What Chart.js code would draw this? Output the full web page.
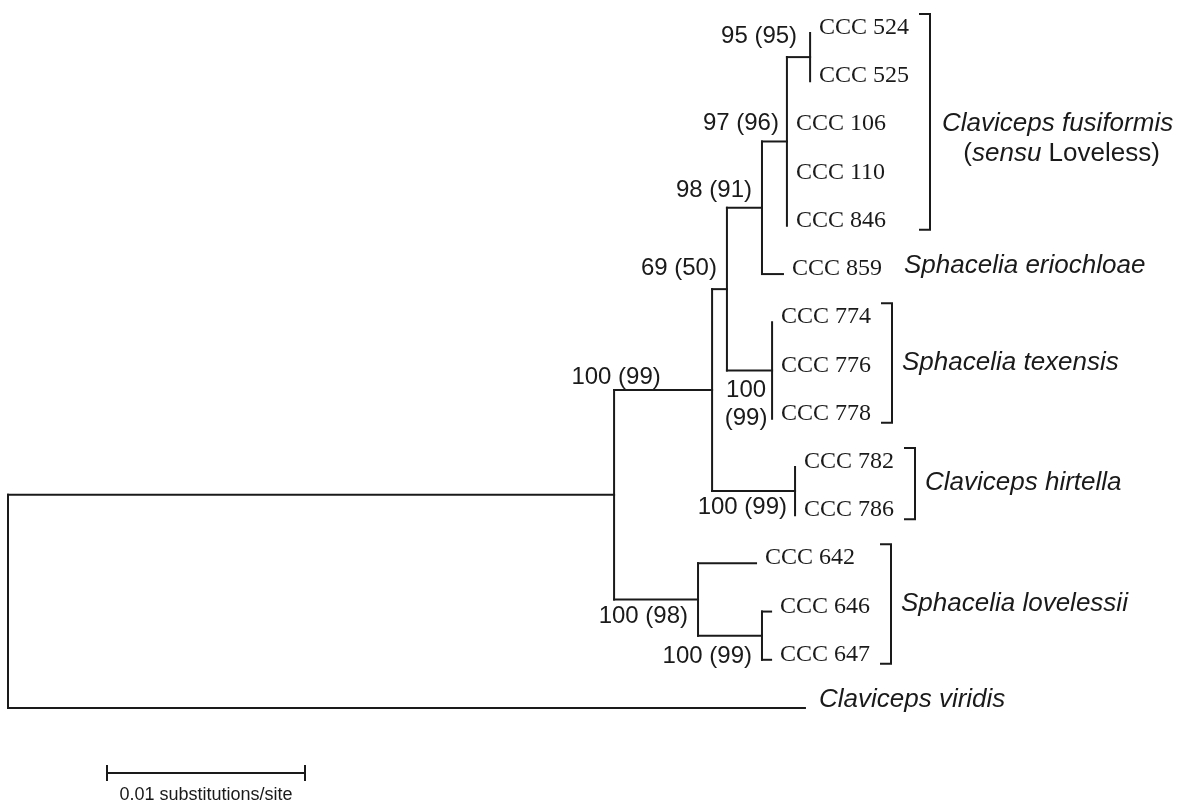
<!DOCTYPE html>
<html>
<head>
<meta charset="utf-8">
<title>Claviceps / Sphacelia phylogeny</title>
<script src="https://cdn.jsdelivr.net/npm/chart.js@4.4.1/dist/chart.umd.min.js"></script>
<style>
  html, body { margin: 0; padding: 0; background: #fff; }
  #wrap { width: 1178px; height: 802px; position: relative; }
</style>
</head>
<body>
<div id="wrap"><canvas id="tree"></canvas></div>
<script>
// ── Tree data ────────────────────────────────────────────────
// Tips, top to bottom. Depth = distance from root (substitutions/site).
const tipNames  = ['CCC 524', 'CCC 525', 'CCC 106', 'CCC 110', 'CCC 846', 'CCC 859',
                   'CCC 774', 'CCC 776', 'CCC 778', 'CCC 782', 'CCC 786',
                   'CCC 642', 'CCC 646', 'CCC 647', 'Claviceps viridis'];
const tipDepth  = [0.04051, 0.04051, 0.03934, 0.03934, 0.03934, 0.03914,
                   0.03859, 0.03859, 0.03859, 0.03975, 0.03975,
                   0.03778, 0.03854, 0.03854, 0.04025];
const tipParent = [6, 6, 5, 5, 5, 4, 7, 7, 7, 8, 8, 9, 10, 10, 0];

// Internal nodes (0 = root)
const nodeDepth   = [0, 0.03061, 0.03556, 0.03631, 0.03808, 0.03934, 0.04051,
                     0.03859, 0.03975, 0.03485, 0.03808];
const nodeParent  = [-1, 0, 1, 2, 3, 4, 5, 3, 2, 1, 9];
const nodeSupport = ['', '100 (99)', '', '69 (50)', '98 (91)', '97 (96)', '95 (95)',
                     '100\n(99)', '100 (99)', '100 (98)', '100 (99)'];

// Named groups on the right
const cladeNames = ['Claviceps fusiformis', 'Sphacelia eriochloae', 'Sphacelia texensis',
                    'Claviceps hirtella', 'Sphacelia lovelessii'];
const cladeNotes = ['(*sensu* Loveless)', '', '', '', ''];
const cladeFirst = [0, 5, 6, 9, 11];
const cladeLast  = [4, 5, 8, 10, 13];

const scaleBarLen   = 0.01;
const scaleBarLabel = '0.01 substitutions/site';

// ── Styles ───────────────────────────────────────────────────
const INK          = '#1a1a1a';
const FONT_TIP     = '24px "Liberation Serif", "Times New Roman", serif';
const FONT_SUPPORT = '24px "Liberation Sans", Arial, sans-serif';
const FONT_SPECIES = 'italic 26px "Liberation Sans", Arial, sans-serif';
const FONT_NOTE    = '26px "Liberation Sans", Arial, sans-serif';
const FONT_SCALE   = '18px "Liberation Sans", Arial, sans-serif';

// where each support value sits: [align, dx, dy] from node x / branch y
// ('top' = measured from the top of the node's vertical line)
const SUPPORT_POS = {
  1:  ['center', 2, -13, 'top'],
  3:  ['right', -10, -21],
  4:  ['right', -10, -17],
  5:  ['right', -8, -18],
  6:  ['right', -13, -21],
  7:  ['center', -26, 20],
  8:  ['right', -8, 16],
  9:  ['right', -10, 17],
  10: ['right', -10, 21]
};

// ── Layout (y of every node from its children) ───────────────
const nodeY = [], nodeTop = [], nodeBottom = [];

function layoutNode(n) {
  const ys = [];
  tipParent.forEach((p, i) => { if (p === n) ys.push(i); });
  nodeParent.forEach((p, i) => { if (p === n) ys.push(layoutNode(i)); });
  nodeTop[n]    = Math.min(...ys);
  nodeBottom[n] = Math.max(...ys);
  nodeY[n]      = (nodeTop[n] + nodeBottom[n]) / 2;
  return nodeY[n];
}
layoutNode(0);

// ── Branch segments ──────────────────────────────────────────
const segments = [];
tipNames.forEach((_, i) => {
  const pd = nodeDepth[tipParent[i]];
  if (tipDepth[i] > pd) segments.push([[pd, i], [tipDepth[i], i]]);
});
nodeDepth.forEach((d, n) => {
  if (nodeParent[n] >= 0) segments.push([[nodeDepth[nodeParent[n]], nodeY[n]], [d, nodeY[n]]]);
  segments.push([[d, nodeTop[n]], [d, nodeBottom[n]]]);
});

const datasets = segments.map(s => ({
  data: s.map(p => ({ x: p[0], y: p[1] })),
  showLine: true,
  borderColor: INK,
  borderWidth: 2,
  borderCapStyle: 'square',
  pointRadius: 0,
  tension: 0,
  fill: false,
  clip: false
}));

// ── Text, brackets and scale bar ─────────────────────────────
/**
 * Draws "plain *italic* plain" text centred on cx.
 */
function drawRich(ctx, text, cx, cy) {
  const parts = text.split('*');
  const fonts = parts.map((_, k) => (k % 2 ? FONT_SPECIES : FONT_NOTE));
  let total = 0;
  const widths = parts.map((p, k) => { ctx.font = fonts[k]; const w = ctx.measureText(p).width; total += w; return w; });
  let xx = cx - total / 2;
  ctx.textAlign = 'left';
  parts.forEach((p, k) => { ctx.font = fonts[k]; ctx.fillText(p, xx, cy); xx += widths[k]; });
}

const treeLabels = {
  id: 'treeLabels',
  afterDatasetsDraw(chart) {
    const { ctx } = chart;
    const x = chart.scales.x, y = chart.scales.y;
    ctx.save();
    ctx.fillStyle = INK;
    ctx.strokeStyle = INK;
    ctx.lineWidth = 2;

    // tip labels
    const tipRight = [];
    tipNames.forEach((name, i) => {
      const px = x.getPixelForValue(tipDepth[i]);
      const py = y.getPixelForValue(i);
      ctx.textAlign = 'left';
      if (name.startsWith('CCC')) {
        ctx.font = FONT_TIP;
        ctx.textBaseline = 'alphabetic';
        ctx.fillText(name, px + 9, py + 1);
        tipRight[i] = px + 9 + ctx.measureText(name).width;
      } else {
        ctx.font = FONT_SPECIES;
        ctx.textBaseline = 'middle';
        ctx.fillText(name, px + 14, py - 8);
        tipRight[i] = px + 14 + ctx.measureText(name).width;
      }
    });

    // clade brackets + names
    ctx.textBaseline = 'middle';
    cladeNames.forEach((name, c) => {
      const a = cladeFirst[c], b = cladeLast[c];
      const right = Math.max(...tipRight.slice(a, b + 1));
      const y0 = y.getPixelForValue(a), y1 = y.getPixelForValue(b);
      const mid = (y0 + y1) / 2;
      let lx = right + 22;
      if (b > a) {
        const bx = Math.round(right + 21);
        ctx.beginPath();
        ctx.moveTo(bx - 11, y0 - 19);
        ctx.lineTo(bx, y0 - 19);
        ctx.lineTo(bx, y1 + 4);
        ctx.lineTo(bx - 11, y1 + 4);
        ctx.stroke();
        lx = bx + 10;
      }
      ctx.font = FONT_SPECIES;
      if (cladeNotes[c]) {
        const w = ctx.measureText(name).width;
        const cx = lx + 2 + w / 2;
        ctx.textAlign = 'center';
        ctx.fillText(name, cx, mid - 6);
        drawRich(ctx, cladeNotes[c], cx + 4, mid + 24);
      } else {
        ctx.textAlign = 'left';
        ctx.fillText(name, lx, mid - 8);
      }
    });

    // support values
    ctx.font = FONT_SUPPORT;
    nodeSupport.forEach((txt, n) => {
      if (!txt) return;
      const [align, dx, dy, ref] = SUPPORT_POS[n];
      const px = x.getPixelForValue(nodeDepth[n]);
      const py = y.getPixelForValue(ref === 'top' ? nodeTop[n] : nodeY[n]);
      ctx.textAlign = align;
      txt.split('\n').forEach((line, k) => ctx.fillText(line, px + dx, py + dy + k * 28));
    });

    // scale bar
    const sx0 = x.getPixelForValue(0.005);
    const sx1 = x.getPixelForValue(0.005 + scaleBarLen);
    const sy  = 773;
    ctx.beginPath();
    ctx.moveTo(sx0, sy); ctx.lineTo(sx1, sy);
    ctx.moveTo(sx0, sy - 8); ctx.lineTo(sx0, sy + 8);
    ctx.moveTo(sx1, sy - 8); ctx.lineTo(sx1, sy + 8);
    ctx.stroke();
    ctx.font = FONT_SCALE;
    ctx.textAlign = 'center';
    ctx.fillText(scaleBarLabel, (sx0 + sx1) / 2, sy + 22);

    ctx.restore();
  }
};

// ── Chart ────────────────────────────────────────────────────
new Chart(document.getElementById('tree'), {
  type: 'scatter',
  data: { datasets },
  options: {
    responsive: true,
    maintainAspectRatio: false,
    animation: false,
    events: [],
    layout: { padding: { left: 8, right: 180, top: 33, bottom: 94 } },
    scales: {
      x: { type: 'linear', min: 0, max: 0.05, display: false },
      y: { type: 'linear', min: 0, max: 14, reverse: true, display: false }
    },
    plugins: { legend: { display: false }, tooltip: { enabled: false } }
  },
  plugins: [treeLabels]
});
</script>
</body>
</html>
